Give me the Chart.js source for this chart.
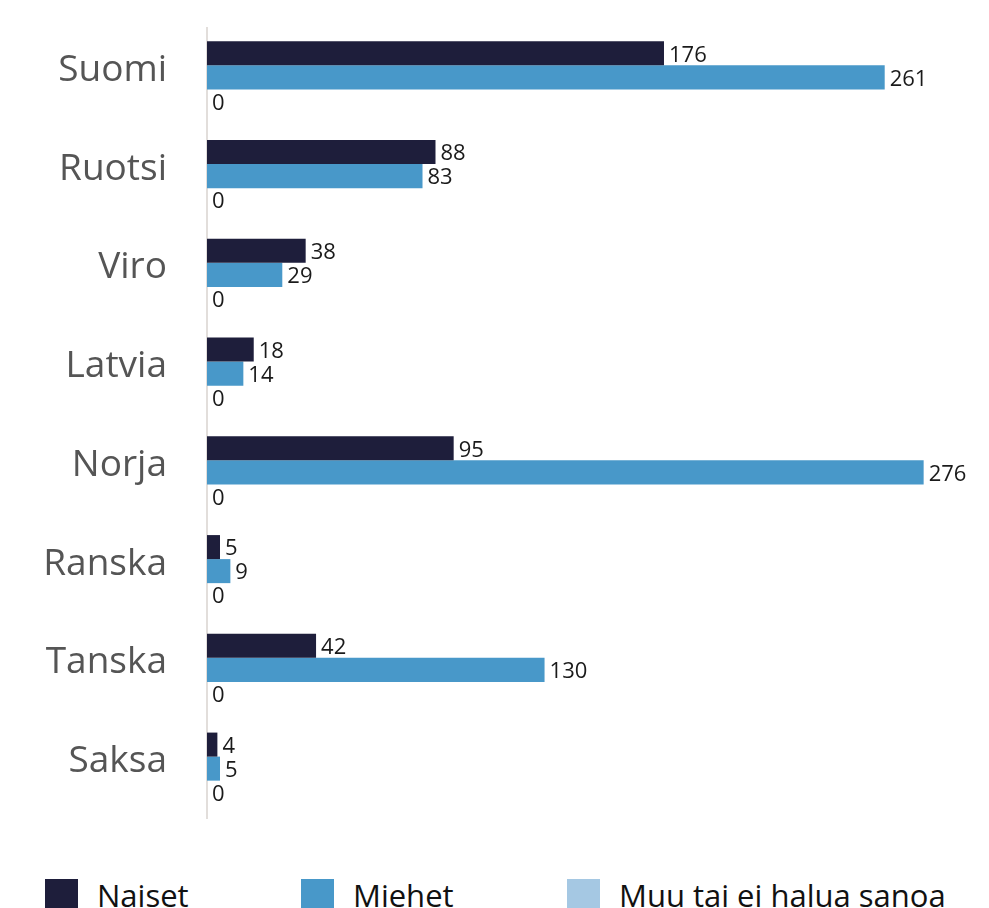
<!DOCTYPE html>
<html>
<head>
<meta charset="utf-8">
<script src="https://cdn.jsdelivr.net/npm/chart.js@4"></script>
<style>
  html, body { margin: 0; padding: 0; background: #fff; }
  #wrap { width: 989px; height: 850px; position: relative; }
  #legend { font-family: "Open Sans", sans-serif; font-size: 31px; color: #111; }
  .item { display: flex; align-items: center; position: absolute; top: 874px; }
  .box { width: 33px; height: 33px; margin-right: 19px; }
</style>
</head>
<body>
<div id="wrap"><canvas id="barChart"></canvas></div>
<div id="legend"></div>
<script>
const countries = ['Suomi', 'Ruotsi', 'Viro', 'Latvia', 'Norja', 'Ranska', 'Tanska', 'Saksa'];
const naiset = [176, 88, 38, 18, 95, 5, 42, 4];
const miehet = [261, 83, 29, 14, 276, 9, 130, 5];
const muu = [0, 0, 0, 0, 0, 0, 0, 0];
const seriesNames = ['Naiset', 'Miehet', 'Muu tai ei halua sanoa'];
const seriesColors = ['#1e1e3b', '#4898c9', '#a5c8e3'];

// value labels at the bar ends
const valueLabels = {
    id: 'valueLabels',
    afterDatasetsDraw(chart) {
        const ctx = chart.ctx;
        ctx.save();
        ctx.font = '22px "Open Sans", sans-serif';
        ctx.fillStyle = '#1a1a1a';
        ctx.textBaseline = 'middle';
        chart.data.datasets.forEach((ds, i) => {
            chart.getDatasetMeta(i).data.forEach((bar, j) => {
                ctx.fillText(ds.data[j], bar.x + 5, bar.y + 2);
            });
        });
        ctx.restore();
    }
};

const canvas = document.getElementById('barChart');
const chart = new Chart(canvas, {
    type: 'bar',
    data: {
        labels: countries,
        datasets: [
            { label: seriesNames[0], data: naiset, backgroundColor: seriesColors[0] },
            { label: seriesNames[1], data: miehet, backgroundColor: seriesColors[1] },
            { label: seriesNames[2], data: muu, backgroundColor: seriesColors[2] }
        ]
    },
    options: {
        indexAxis: 'y',
        responsive: true,
        maintainAspectRatio: false,
        animation: false,
        layout: { padding: { top: 28, bottom: 32, right: 29, left: 0 } },
        datasets: { bar: { barPercentage: 1, categoryPercentage: 0.73 } },
        scales: {
            x: { display: false, min: 0, max: 290 },
            y: {
                grid: { display: false, drawTicks: false },
                border: { display: true, color: '#e2dedb', width: 2 },
                ticks: {
                    padding: 40,
                    labelOffset: -7,
                    color: '#555',
                    font: { family: '"Open Sans", sans-serif', size: 37 }
                },
                afterFit(scale) {
                    scale.width = 207;
                    scale.paddingTop = 0;
                    scale.paddingBottom = 0;
                }
            }
        },
        plugins: {
            legend: { display: false },
            tooltip: { enabled: false }
        }
    },
    plugins: [valueLabels]
});

// legend below the canvas
const legendEl = document.getElementById('legend');
const legendX = [45, 301, 567];
seriesNames.forEach((name, i) => {
    const item = document.createElement('div');
    item.className = 'item';
    item.style.left = legendX[i] + 'px';
    item.innerHTML = '<span class="box" style="background:' + seriesColors[i] + '"></span>' + name;
    legendEl.appendChild(item);
});
</script>
</body>
</html>
